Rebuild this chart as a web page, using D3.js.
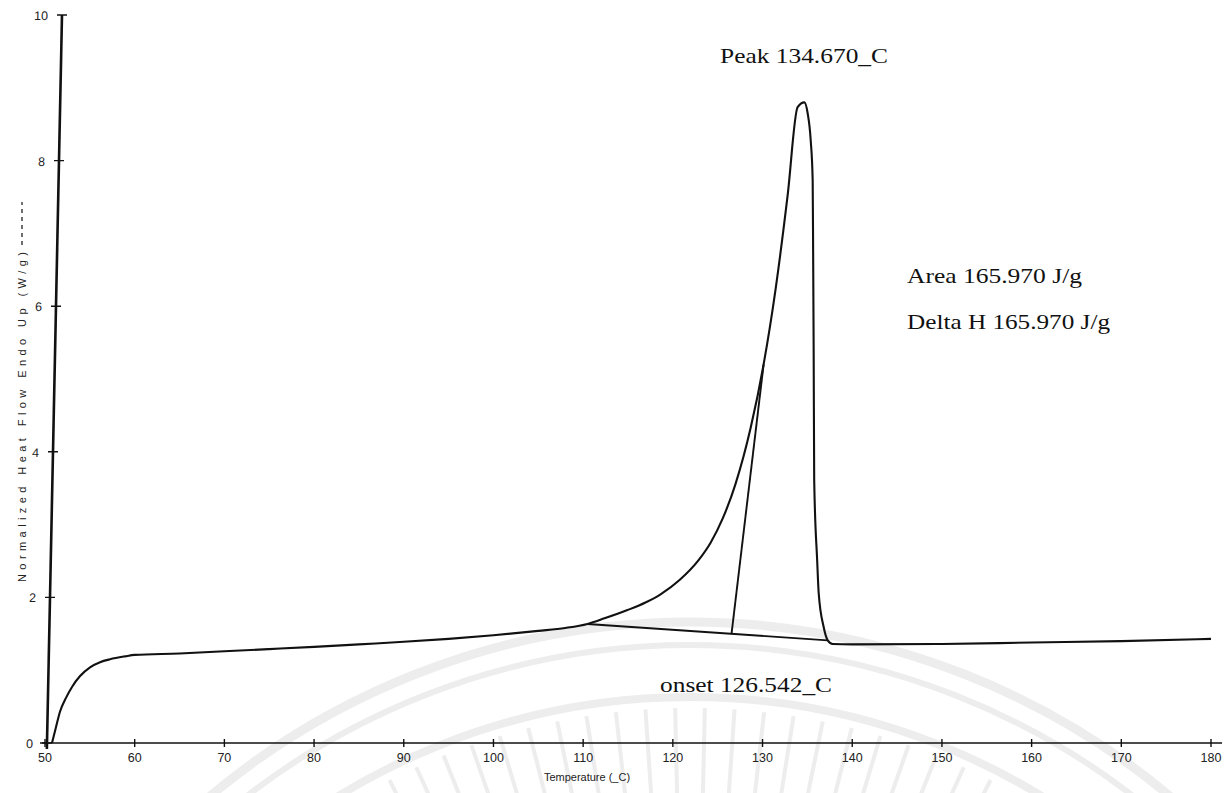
<!DOCTYPE html>
<html>
<head>
<meta charset="utf-8">
<script src="https://cdn.jsdelivr.net/npm/d3@7"></script>
<style>
  html, body { margin: 0; padding: 0; background: #fff; }
  svg { display: block; }
</style>
</head>
<body>
<svg id="chart" width="1232" height="793"></svg>
<script>
// DSC thermogram: normalized heat flow vs temperature
const temperature = [50.78, 51.23, 51.67, 52.34, 53.01, 53.91, 55.02, 56.14, 57.25, 58.93,
  60, 65, 70, 75, 80, 85, 90, 95, 100, 105, 108, 110.48, 112.38, 114.94, 116.95, 118.63,
  120.75, 122.87, 124.21, 125.55, 127.0, 128.67, 130.12, 131.46, 132.8, 133.91,
  134.67, 135.03, 135.37, 135.59, 135.64, 135.70, 135.76,
  136.09, 136.26, 136.82, 137.27, 137.82, 140, 150, 160, 170, 180];
const heatFlow = [0, 0.22, 0.43, 0.62, 0.77, 0.92, 1.04, 1.11, 1.15, 1.19,
  1.21, 1.23, 1.26, 1.29, 1.32, 1.355, 1.39, 1.43, 1.48, 1.54, 1.58, 1.635, 1.712, 1.826, 1.930, 2.043,
  2.239, 2.512, 2.751, 3.081, 3.563, 4.326, 5.201, 6.239, 7.525, 8.734,
  8.80, 8.65, 8.28, 7.73, 6.77, 5.40, 3.61,
  2.51, 2.06, 1.59, 1.41, 1.36, 1.355, 1.36, 1.38, 1.40, 1.43];

// integration baseline under the melting peak
const baselineTemp = [110.48, 137.27];
const baselineFlow = [1.635, 1.41];

// extrapolated onset tangent (foot sits on the baseline at the onset temperature)
const onsetTemp = [126.542, 130.12];
const onsetFlow = [1.50, 5.201];

const xTicks = [50, 60, 70, 80, 90, 100, 110, 120, 130, 140, 150, 160, 170, 180];
const yTicks = [0, 2, 4, 6, 8, 10];

const peakLabel = "Peak  134.670_C";
const onsetLabel = "onset  126.542_C";
const areaLabel = "Area  165.970 J/g";
const deltaHLabel = "Delta H  165.970 J/g";
const xTitle = "Temperature (_C)";
const yTitle = "Normalized Heat Flow Endo Up (W/g)";

const svg = d3.select("#chart");

const x = d3.scaleLinear().domain([50, 180]).range([45, 1211]);
const y = d3.scaleLinear().domain([0, 10]).range([743, 15]);

// faint seal in the paper background
const seal = svg.append("g").attr("fill", "none").attr("stroke", "#ededed");
const cx = 690, cy = 1370;
[[748, 9], [725, 6], [673, 8]].forEach(([r, w]) => {
  seal.append("circle").attr("cx", cx).attr("cy", cy).attr("r", r).attr("stroke-width", w);
});
for (let i = 0; i < 70; i++) {
  const a = Math.PI + (i + 0.5) * Math.PI / 70;
  const r0 = 540, r1 = 662;
  seal.append("line")
    .attr("x1", cx + r0 * Math.cos(a)).attr("y1", cy + r0 * Math.sin(a))
    .attr("x2", cx + r1 * Math.cos(a)).attr("y2", cy + r1 * Math.sin(a))
    .attr("stroke-width", 4);
}

// x axis
const xAxis = svg.append("g");
xAxis.append("line")
  .attr("x1", 40).attr("x2", 1222)
  .attr("y1", y(0)).attr("y2", y(0))
  .attr("stroke", "#111").attr("stroke-width", 1.6);
xAxis.selectAll(".xt").data(xTicks).join("line")
  .attr("x1", d => x(d)).attr("x2", d => x(d))
  .attr("y1", y(0) - 4).attr("y2", y(0) + 4)
  .attr("stroke", "#111").attr("stroke-width", 1.4);
xAxis.selectAll(".xl").data(xTicks).join("text")
  .attr("x", d => x(d)).attr("y", y(0) + 19)
  .attr("text-anchor", "middle")
  .attr("font-family", "Liberation Sans, Arial, sans-serif")
  .attr("font-size", 12.5)
  .attr("fill", "#222")
  .text(d => d);
svg.append("text")
  .attr("x", 587).attr("y", 781)
  .attr("text-anchor", "middle")
  .attr("font-family", "Liberation Sans, Arial, sans-serif")
  .attr("font-size", 11)
  .attr("fill", "#222")
  .text(xTitle);

// y axis (leans slightly, as on the printed sheet)
const yAxis = svg.append("g")
  .attr("transform", `translate(47,${y(0)}) skewX(-1.18) translate(-47,${-y(0)})`);
yAxis.append("line")
  .attr("x1", 47).attr("x2", 47)
  .attr("y1", y(0) + 6).attr("y2", y(10))
  .attr("stroke", "#111").attr("stroke-width", 2.6);
yAxis.selectAll(".yt").data(yTicks).join("line")
  .attr("x1", 42).attr("x2", 52)
  .attr("y1", d => y(d)).attr("y2", d => y(d))
  .attr("stroke", "#111").attr("stroke-width", 1.4);
yAxis.selectAll(".yl").data(yTicks).join("text")
  .attr("x", 33).attr("y", d => y(d) + 5)
  .attr("text-anchor", "end")
  .attr("font-family", "Liberation Sans, Arial, sans-serif")
  .attr("font-size", 12.5)
  .attr("fill", "#222")
  .text(d => d);

// y title with line-style key
const yt = svg.append("g").attr("transform", "translate(26,417) rotate(-90)");
yt.append("text")
  .attr("x", 0).attr("y", 0)
  .attr("text-anchor", "middle")
  .attr("font-family", "Liberation Sans, Arial, sans-serif")
  .attr("font-size", 11)
  .attr("fill", "#222")
  .attr("textLength", 330).attr("lengthAdjust", "spacing")
  .text(yTitle);
yt.append("line")
  .attr("x1", 172).attr("x2", 215)
  .attr("y1", -4).attr("y2", -4)
  .attr("stroke", "#333").attr("stroke-width", 1.4)
  .attr("stroke-dasharray", "4,4");

// measured curve
const pts = temperature.map((t, i) => [t, heatFlow[i]]);
const line = d3.line().x(d => x(d[0])).y(d => y(d[1])).curve(d3.curveMonotoneX);
svg.append("path")
  .attr("d", line(pts))
  .attr("fill", "none")
  .attr("stroke", "#111")
  .attr("stroke-width", 2.1)
  .attr("stroke-linejoin", "round");

// baseline and onset tangent
const straight = d3.line().x(d => x(d[0])).y(d => y(d[1]));
svg.append("path")
  .attr("d", straight(baselineTemp.map((t, i) => [t, baselineFlow[i]])))
  .attr("fill", "none").attr("stroke", "#111").attr("stroke-width", 1.9);
svg.append("path")
  .attr("d", straight(onsetTemp.map((t, i) => [t, onsetFlow[i]])))
  .attr("fill", "none").attr("stroke", "#111").attr("stroke-width", 1.9);

// annotations
const serif = "Liberation Serif, Times New Roman, serif";
function note(txt, x0, yb, len) {
  svg.append("text")
    .attr("x", x0).attr("y", yb)
    .attr("font-family", serif)
    .attr("font-size", 21)
    .attr("fill", "#111")
    .attr("textLength", len).attr("lengthAdjust", "spacingAndGlyphs")
    .text(txt);
}
note(peakLabel, 720, 63, 168);
note(areaLabel, 907, 283, 175);
note(deltaHLabel, 907, 329, 203);
note(onsetLabel, 660, 692, 172);
</script>
</body>
</html>
